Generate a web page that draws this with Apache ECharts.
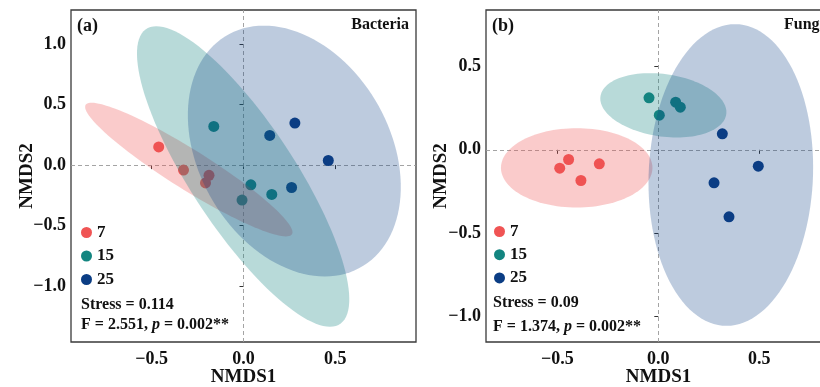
<!DOCTYPE html>
<html>
<head>
<meta charset="utf-8">
<script src="https://cdn.jsdelivr.net/npm/echarts@6/dist/echarts.min.js"></script>
<style>
html,body{margin:0;padding:0;background:#fff;}
#chart{width:820px;height:387px;}
</style>
</head>
<body>
<div id="chart"></div>
<script>
// ---------- data ----------
const groups = ['7', '15', '25'];
const groupColors = ['#F05454', '#138580', '#0B3D84'];
const ellipseFills = ['rgba(240,84,84,0.30)', 'rgba(19,133,128,0.30)', 'rgba(11,61,132,0.27)'];

// Panel (a) Bacteria: NMDS1 / NMDS2 per group
const bactX7 = [-0.462, -0.327, -0.188, -0.207];
const bactY7 = [0.150, -0.041, -0.084, -0.147];
const bactX15 = [-0.162, 0.040, 0.154, -0.008];
const bactY15 = [0.319, -0.163, -0.242, -0.289];
const bactX25 = [0.143, 0.280, 0.462, 0.262];
const bactY25 = [0.245, 0.347, 0.038, -0.185];

// Panel (b) Fungi
const fungX7 = [-0.444, -0.488, -0.292, -0.383];
const fungY7 = [-0.058, -0.110, -0.084, -0.184];
const fungX15 = [-0.046, 0.086, 0.109, 0.005];
const fungY15 = [0.312, 0.286, 0.256, 0.208];
const fungX25 = [0.317, 0.495, 0.276, 0.350];
const fungY25 = [0.096, -0.098, -0.198, -0.402];

// Confidence ellipses: [centerX, centerY, axis1X, axis1Y, axis2X, axis2Y] (conjugate semi-axes, data units)
const bactEll7 = [-0.298, -0.037, 0.562, -0.534, -0.058, -0.138];
const bactEll15 = [-0.002, -0.094, 0.333, 0.000, -0.473, 1.240];
const bactEll25 = [0.277, 0.116, 0.556, 0.000, -0.166, 1.035];
const fungEll7 = [-0.404, -0.108, 0.375, 0.000, 0.000, 0.238];
const fungEll15 = [0.025, 0.267, 0.305, 0.000, -0.066, 0.193];
const fungEll25 = [0.359, -0.151, 0.407, 0.000, 0.021, 0.905];

// Tick labels
const xTicksA = [-0.5, 0.0, 0.5];
const yTicksA = [-1.0, -0.5, 0.0, 0.5, 1.0];
const xTicksB = [-0.5, 0.0, 0.5];
const yTicksB = [-1.0, -0.5, 0.0, 0.5];

const panelTitles = ['(a)', '(b)'];
const panelNames = ['Bacteria', 'Fungi'];
const statsStress = ['Stress = 0.114', 'Stress = 0.09'];
const statsF = [['F = 2.551, ', 'p', ' = 0.002**'], ['F = 1.374, ', 'p', ' = 0.002**']];

// ---------- chart ----------
const FONT = "'Liberation Serif', 'Times New Roman', serif";
const zip = (xs, ys) => xs.map((x, i) => [x, ys[i]]);
const fmt = v => (v < 0 ? '\u2212' : '') + Math.abs(v).toFixed(1);

function axisCommon(ticks, name, isY, gap) {
  return {
    type: 'value',
    name: name,
    nameLocation: 'middle',
    nameGap: gap,
    nameMoveOverlap: false,
    nameTextStyle: { fontFamily: FONT, fontWeight: 'bold', fontSize: 19, color: '#111' },
    axisLine: { show: false },
    axisTick: { show: true, length: 4, lineStyle: { color: '#333', width: 1 }, customValues: ticks },
    axisLabel: { show: true, margin: isY ? 5 : 8, fontFamily: FONT, fontWeight: 'bold', fontSize: 18, color: '#111',
      customValues: ticks, formatter: fmt },
    splitLine: { show: false }
  };
}

function ellipseSeries(ell, color, xi) {
  return {
    type: 'custom',
    xAxisIndex: xi, yAxisIndex: xi,
    z: 3,
    silent: true,
    data: [ell],
    encode: { x: 0, y: 1 },
    renderItem: function (params, api) {
      const cx = api.value(0), cy = api.value(1), ux = api.value(2), uy = api.value(3), vx = api.value(4), vy = api.value(5);
      const pts = [];
      const N = 120;
      for (let i = 0; i < N; i++) {
        const t = 2 * Math.PI * i / N;
        const c = Math.cos(t), s = Math.sin(t);
        pts.push(api.coord([cx + ux * c + vx * s, cy + uy * c + vy * s]));
      }
      const cs = params.coordSys;
      return {
        type: 'polygon',
        shape: { points: pts },
        style: { fill: color, stroke: null },
        clipPath: { type: 'rect', shape: { x: cs.x, y: cs.y, width: cs.width, height: cs.height } }
      };
    }
  };
}

function pointSeries(name, data, color, xi, withLines) {
  const s = {
    type: 'scatter', name: name, xAxisIndex: xi, yAxisIndex: xi,
    data: data, symbol: 'circle', symbolSize: 11, z: 2,
    itemStyle: { color: color, opacity: 1 },
    emphasis: { disabled: true }
  };
  if (withLines) {
    s.markLine = {
      silent: true, symbol: 'none', label: { show: false }, z: 1,
      lineStyle: { type: [4, 3], color: '#9a9a9a', width: 0.9 },
      data: [{ xAxis: 0 }, { yAxis: 0 }]
    };
  }
  return s;
}

const chart = echarts.init(document.getElementById('chart'), null, { renderer: 'canvas' });

const grids = [
  { left: 71, top: 10, width: 345, height: 332 },
  { left: 486, top: 10, width: 345, height: 332 }
];

const legendText = { fontFamily: FONT, fontWeight: 'bold', fontSize: 17, color: '#111' };

const option = {
  animation: false,
  backgroundColor: '#fff',
  grid: grids.map(g => Object.assign({ show: true, borderColor: '#3a3a3a', borderWidth: 1.3, backgroundColor: 'transparent',
    containLabel: false, outerBoundsMode: 'none' }, g)),
  xAxis: [
    Object.assign(axisCommon(xTicksA, 'NMDS1', false, 26), { gridIndex: 0, min: -0.94, max: 0.94 }),
    Object.assign(axisCommon(xTicksB, 'NMDS1', false, 26), { gridIndex: 1, min: -0.853, max: 0.855 })
  ],
  yAxis: [
    Object.assign(axisCommon(yTicksA, 'NMDS2', true, 34), { gridIndex: 0, min: -1.46, max: 1.28 }),
    Object.assign(axisCommon(yTicksB, 'NMDS2', true, 35.5), { gridIndex: 1, min: -1.153, max: 0.839 })
  ],
  legend: [
    { data: groups, left: 81, top: 224, padding: 0, orient: 'vertical', icon: 'circle', itemWidth: 11, itemHeight: 11, itemGap: 6.5,
      selectedMode: false, textStyle: legendText },
    { data: groups, left: 494, top: 223, padding: 0, orient: 'vertical', icon: 'circle', itemWidth: 11, itemHeight: 11, itemGap: 6.2,
      selectedMode: false, textStyle: legendText }
  ],
  graphic: [
    { type: 'text', x: 77, y: 17, style: { text: panelTitles[0], font: "bold 18px " + FONT, fill: '#111' } },
    { type: 'text', x: 409, y: 17, style: { text: panelNames[0], font: "bold 16px " + FONT, fill: '#111', align: 'right' } },
    { type: 'text', x: 492, y: 17, style: { text: panelTitles[1], font: "bold 18px " + FONT, fill: '#111' } },
    { type: 'text', x: 824, y: 17, style: { text: panelNames[1], font: "bold 16px " + FONT, fill: '#111', align: 'right' } },
    { type: 'text', x: 81, y: 296.5, style: { text: statsStress[0], font: "bold 16px " + FONT, fill: '#111' } },
    { type: 'text', x: 81, y: 317, style: {
      text: '{b|' + statsF[0][0] + '}{i|' + statsF[0][1] + '}{b|' + statsF[0][2] + '}',
      rich: { b: { fontFamily: FONT, fontWeight: 'bold', fontSize: 16, fill: '#111', color: '#111' },
              i: { fontFamily: FONT, fontWeight: 'bold', fontStyle: 'italic', fontSize: 16, fill: '#111', color: '#111' } } } },
    { type: 'text', x: 493, y: 295, style: { text: statsStress[1], font: "bold 16px " + FONT, fill: '#111' } },
    { type: 'text', x: 493, y: 319, style: {
      text: '{b|' + statsF[1][0] + '}{i|' + statsF[1][1] + '}{b|' + statsF[1][2] + '}',
      rich: { b: { fontFamily: FONT, fontWeight: 'bold', fontSize: 16, fill: '#111', color: '#111' },
              i: { fontFamily: FONT, fontWeight: 'bold', fontStyle: 'italic', fontSize: 16, fill: '#111', color: '#111' } } } }
  ],
  series: [
    pointSeries(groups[0], zip(bactX7, bactY7), groupColors[0], 0, true),
    pointSeries(groups[1], zip(bactX15, bactY15), groupColors[1], 0, false),
    pointSeries(groups[2], zip(bactX25, bactY25), groupColors[2], 0, false),
    ellipseSeries(bactEll7, ellipseFills[0], 0),
    ellipseSeries(bactEll15, ellipseFills[1], 0),
    ellipseSeries(bactEll25, ellipseFills[2], 0),
    pointSeries(groups[0], zip(fungX7, fungY7), groupColors[0], 1, true),
    pointSeries(groups[1], zip(fungX15, fungY15), groupColors[1], 1, false),
    pointSeries(groups[2], zip(fungX25, fungY25), groupColors[2], 1, false),
    ellipseSeries(fungEll7, ellipseFills[0], 1),
    ellipseSeries(fungEll15, ellipseFills[1], 1),
    ellipseSeries(fungEll25, ellipseFills[2], 1)
  ]
};
chart.setOption(option);
</script>
</body>
</html>
